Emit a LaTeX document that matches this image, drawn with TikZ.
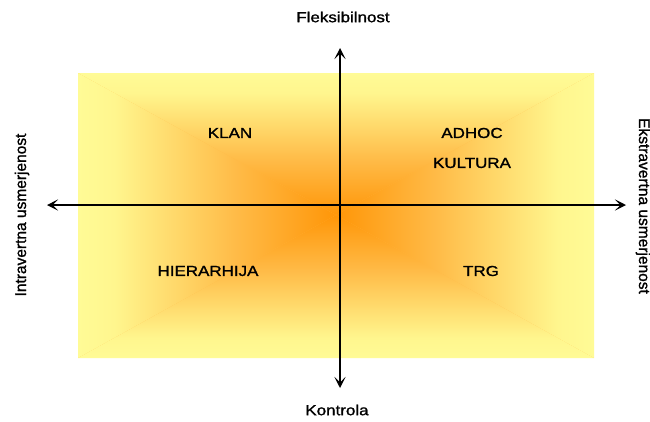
\documentclass[tikz,border=0pt]{standalone}
\usepackage{fontspec}
\usepackage{graphicx}
\setmainfont{Liberation Sans}
\newfontfamily\labelfont{Liberation Sans}[FakeBold=1.2]
\usetikzlibrary{arrows.meta}

% colours of the rectangular "from centre" gradient
\definecolor{core}{RGB}{255,150,8}
\definecolor{midtone}{RGB}{255,186,70}
\definecolor{rim}{RGB}{255,246,142}
\definecolor{edge}{RGB}{255,251,150}

% one linear ramp per side: centre of the panel -> its edge
\pgfdeclareverticalshading{fadeup}{100bp}{color(0bp)=(core); color(25bp)=(core); color(44bp)=(midtone); color(68bp)=(rim); color(75bp)=(edge); color(100bp)=(edge)}
\pgfdeclareverticalshading{fadedown}{100bp}{color(0bp)=(edge); color(25bp)=(edge); color(32bp)=(rim); color(56bp)=(midtone); color(75bp)=(core); color(100bp)=(core)}
\pgfdeclarehorizontalshading{faderight}{100bp}{color(0bp)=(core); color(25bp)=(core); color(44bp)=(midtone); color(68bp)=(rim); color(75bp)=(edge); color(100bp)=(edge)}
\pgfdeclarehorizontalshading{fadeleft}{100bp}{color(0bp)=(edge); color(25bp)=(edge); color(32bp)=(rim); color(56bp)=(midtone); color(75bp)=(core); color(100bp)=(core)}

\newcommand{\wide}[1]{\scalebox{1.17}[1]{#1}}

\begin{document}
\begin{tikzpicture}[x=1pt,y=-1pt,
  lbl/.style={font=\labelfont\fontsize{14.5}{17}\selectfont, inner sep=0pt, text=black},
  sidelbl/.style={font=\labelfont\fontsize{15.5}{18}\selectfont, inner sep=0pt, text=black},
  axisline/.style={line width=1.6pt, draw=black,
    {Stealth[length=11pt,width=11pt,inset=5.5pt]}-{Stealth[length=11pt,width=11pt,inset=5.5pt]}}]
\useasboundingbox (0,0) rectangle (650,421);
\fill[white] (0,0) rectangle (650,421);

% panel corners and centre
\coordinate (tl) at (78,73);
\coordinate (tr) at (594,73);
\coordinate (br) at (594,358);
\coordinate (bl) at (78,358);
\coordinate (c) at (336,215);

% shaded panel, built from four triangles meeting in the centre
\fill[midtone] (tl) rectangle (br);
\shade[shading=fadeup]    (tl) -- (tr) -- (c) -- cycle;
\shade[shading=fadedown]  (bl) -- (br) -- (c) -- cycle;
\shade[shading=fadeleft]  (tl) -- (bl) -- (c) -- cycle;
\shade[shading=faderight] (tr) -- (br) -- (c) -- cycle;

% axes
\coordinate (n) at (340,48);
\coordinate (s) at (340,388);
\coordinate (w) at (47,205);
\coordinate (e) at (626,205);
\draw[axisline] (s) -- (n);
\draw[axisline] (w) -- (e);

% axis labels
\node[lbl] (flex) at (343,17) {\wide{Fleksibilnost}};
\node[lbl] (ctrl) at (337,410) {\wide{Kontrola}};
\node[sidelbl, rotate=90] (intra) at (22,215) {Intravertna usmerjenost};
\node[sidelbl, rotate=-90] (ekstra) at (643,206) {Ekstravertna usmerjenost};

% quadrant labels
\node[lbl] (klan) at (230,133) {\wide{KLAN}};
\node[lbl] (adhoc) at (472,133) {\wide{ADHOC}};
\node[lbl] (kult) at (472,163) {\wide{KULTURA}};
\node[lbl] (hier) at (208,271) {\wide{HIERARHIJA}};
\node[lbl] (trg) at (481,271) {\wide{TRG}};
\end{tikzpicture}
\end{document}
